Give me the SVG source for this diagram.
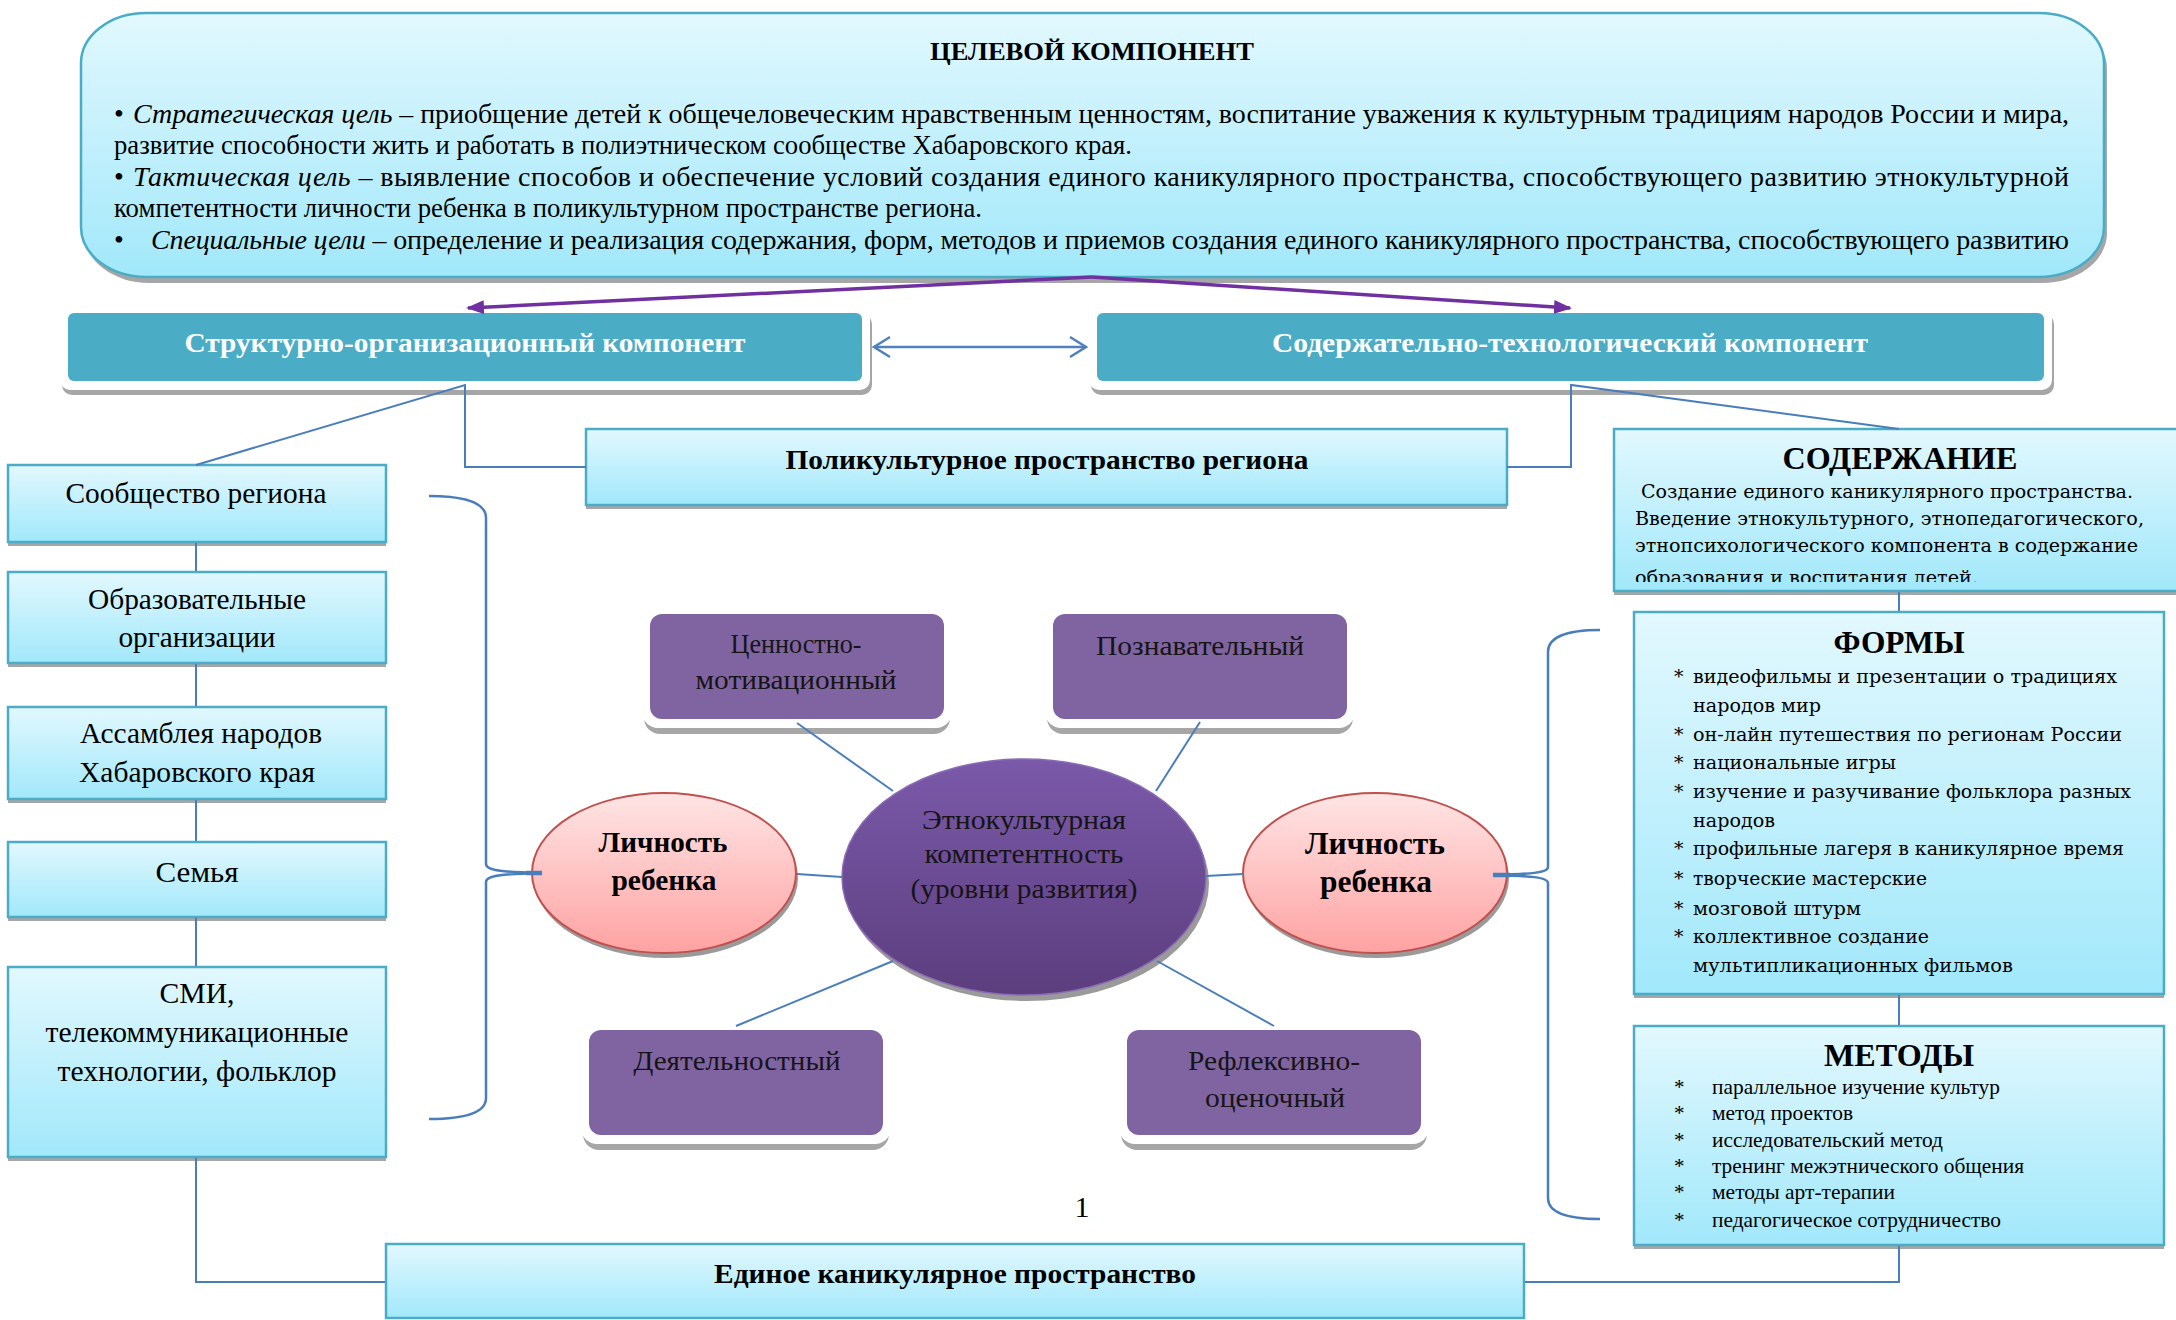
<svg xmlns="http://www.w3.org/2000/svg" width="2176" height="1320" viewBox="0 0 2176 1320">
<defs>
<linearGradient id="gBlue" x1="0" y1="0" x2="0" y2="1"><stop offset="0" stop-color="#e2f8fe"/><stop offset="1" stop-color="#a1e8fb"/></linearGradient>
<linearGradient id="gPink" x1="0" y1="0" x2="0" y2="1"><stop offset="0" stop-color="#fee5e5"/><stop offset="1" stop-color="#ffa2a2"/></linearGradient>
<linearGradient id="gPurple" x1="0" y1="0" x2="0" y2="1"><stop offset="0" stop-color="#7b59aa"/><stop offset="1" stop-color="#5c3e7e"/></linearGradient>
<marker id="mPurple" viewBox="0 0 18 14" refX="16" refY="7" markerWidth="18" markerHeight="14" markerUnits="userSpaceOnUse" orient="auto"><path d="M0,0 L18,7 L0,14 z" fill="#7030a0"/></marker>
<marker id="mOpen" viewBox="0 0 20 24" refX="18" refY="12" markerWidth="20" markerHeight="24" markerUnits="userSpaceOnUse" orient="auto-start-reverse"><path d="M2,2 L18,12 L2,22" fill="none" stroke="#4f81bd" stroke-width="2.5"/></marker>
<clipPath id="clipSod"><rect x="1614" y="429" width="562" height="153"/></clipPath>
</defs>
<style>
.conn{fill:none;stroke:#4a7ebb;stroke-width:2}
.brk{fill:none;stroke:#4a7ebb;stroke-width:2.5}
.stub{stroke:#4a7ebb;stroke-width:4.5}
.lb{fill:url(#gBlue);stroke:#4bacc6;stroke-width:2.5}
.sh{fill:#a6a6a6}
.frame{fill:#ffffff}
.teal{fill:#4bacc6}
.pbox{fill:#8064a2}
.t{font-family:"Liberation Serif","Times New Roman","DejaVu Serif Condensed","DejaVu Serif",serif;fill:#000}
.b{font-weight:bold}
.c{text-anchor:middle}
.w{fill:#ffffff}
.d{fill:#151515}
.cam{font-family:"DejaVu Serif","Liberation Serif",serif;fill:#000}
</style>

<g id="target">
<rect x="84" y="19" width="2023" height="264" rx="65" ry="50" class="sh"/>
<rect x="81" y="13" width="2023" height="264" rx="65" ry="50" class="lb"/>
<text class="t b c" x="1092" y="60" font-size="26" textLength="324" lengthAdjust="spacingAndGlyphs">ЦЕЛЕВОЙ КОМПОНЕНТ</text>
<text class="t" x="114" y="123" font-size="28">•</text>
<text class="t" x="133" y="123" font-size="28" textLength="1936" lengthAdjust="spacing"><tspan font-style="italic">Стратегическая цель</tspan> – приобщение детей к общечеловеческим нравственным ценностям, воспитание уважения к культурным традициям народов России и мира,</text>
<text class="t" x="114" y="154" font-size="28" textLength="1018" lengthAdjust="spacingAndGlyphs">развитие способности жить и работать в полиэтническом сообществе Хабаровского края.</text>
<text class="t" x="114" y="186" font-size="28">•</text>
<text class="t" x="133" y="186" font-size="28" textLength="1936" lengthAdjust="spacing"><tspan font-style="italic">Тактическая цель</tspan> – выявление способов и обеспечение условий создания единого каникулярного пространства, способствующего развитию этнокультурной</text>
<text class="t" x="114" y="217" font-size="28" textLength="868" lengthAdjust="spacingAndGlyphs">компетентности личности ребенка в поликультурном пространстве региона.</text>
<text class="t" x="114" y="249" font-size="28">•</text>
<text class="t" x="151" y="249" font-size="28" textLength="1918" lengthAdjust="spacing"><tspan font-style="italic">Специальные цели</tspan> – определение и реализация содержания, форм, методов и приемов создания единого каникулярного пространства, способствующего развитию</text>
</g>

<g id="struct">
<rect x="62" y="314" width="810" height="81" rx="10" class="sh"/>
<rect x="60" y="309" width="810" height="81" rx="10" class="frame"/>
<rect x="68" y="313" width="794" height="68" rx="6" class="teal"/>
<text class="t b c w" x="465" y="352" font-size="28" textLength="561" lengthAdjust="spacingAndGlyphs">Структурно-организационный компонент</text>
</g>

<g id="content-tech">
<rect x="1091" y="314" width="963" height="81" rx="10" class="sh"/>
<rect x="1089" y="309" width="963" height="81" rx="10" class="frame"/>
<rect x="1097" y="313" width="947" height="68" rx="6" class="teal"/>
<text class="t b c w" x="1570" y="352" font-size="28" textLength="596" lengthAdjust="spacingAndGlyphs">Содержательно-технологический компонент</text>
</g>

<g id="polycult">
<rect x="586" y="433" width="921" height="76" class="sh"/>
<rect x="586" y="429" width="921" height="76" class="lb"/>
<text class="t b c" x="1047" y="469" font-size="28" textLength="523" lengthAdjust="spacingAndGlyphs">Поликультурное пространство региона</text>
</g>

<g id="community">
<rect x="8" y="469" width="378" height="77" class="sh"/>
<rect x="8" y="465" width="378" height="77" class="lb"/>
<text class="t c" x="196" y="503" font-size="29.5" textLength="261" lengthAdjust="spacingAndGlyphs">Сообщество региона</text>
</g>
<g id="edu">
<rect x="8" y="576" width="378" height="91" class="sh"/>
<rect x="8" y="572" width="378" height="91" class="lb"/>
<text class="t c" x="197" y="609" font-size="29.5" textLength="218" lengthAdjust="spacingAndGlyphs">Образовательные</text>
<text class="t c" x="197" y="647" font-size="29.5" textLength="157" lengthAdjust="spacingAndGlyphs">организации</text>
</g>
<g id="assembly">
<rect x="8" y="711" width="378" height="92" class="sh"/>
<rect x="8" y="707" width="378" height="92" class="lb"/>
<text class="t c" x="201" y="743" font-size="29.5" textLength="242" lengthAdjust="spacingAndGlyphs">Ассамблея народов</text>
<text class="t c" x="197" y="782" font-size="29.5" textLength="236" lengthAdjust="spacingAndGlyphs">Хабаровского края</text>
</g>
<g id="family">
<rect x="8" y="846" width="378" height="75" class="sh"/>
<rect x="8" y="842" width="378" height="75" class="lb"/>
<text class="t c" x="197" y="882" font-size="29.5" textLength="83" lengthAdjust="spacingAndGlyphs">Семья</text>
</g>
<g id="media">
<rect x="8" y="971" width="378" height="190" class="sh"/>
<rect x="8" y="967" width="378" height="190" class="lb"/>
<text class="t c" x="197" y="1003" font-size="29.5" textLength="75" lengthAdjust="spacingAndGlyphs">СМИ,</text>
<text class="t c" x="197" y="1042" font-size="29.5" textLength="303" lengthAdjust="spacingAndGlyphs">телекоммуникационные</text>
<text class="t c" x="197" y="1081" font-size="29.5" textLength="279" lengthAdjust="spacingAndGlyphs">технологии, фольклор</text>
</g>

<g id="unified">
<rect x="386" y="1244" width="1138" height="74" class="lb"/>
<text class="t b c" x="955" y="1283" font-size="28" textLength="482" lengthAdjust="spacingAndGlyphs">Единое каникулярное пространство</text>
</g>

<g id="value">
<rect x="644" y="622" width="306" height="112" rx="16" class="sh"/>
<rect x="642" y="616" width="310" height="112" rx="16" class="frame"/>
<rect x="650" y="614" width="294" height="105" rx="12" class="pbox"/>
<text class="t c d" x="796" y="653" font-size="28" textLength="131" lengthAdjust="spacingAndGlyphs">Ценностно-</text>
<text class="t c d" x="796" y="689" font-size="28" textLength="201" lengthAdjust="spacingAndGlyphs">мотивационный</text>
</g>
<g id="cognitive">
<rect x="1047" y="622" width="306" height="112" rx="16" class="sh"/>
<rect x="1045" y="616" width="310" height="112" rx="16" class="frame"/>
<rect x="1053" y="614" width="294" height="105" rx="12" class="pbox"/>
<text class="t c d" x="1200" y="655" font-size="28" textLength="208" lengthAdjust="spacingAndGlyphs">Познавательный</text>
</g>
<g id="activity">
<rect x="583" y="1038" width="306" height="112" rx="16" class="sh"/>
<rect x="581" y="1032" width="310" height="112" rx="16" class="frame"/>
<rect x="589" y="1030" width="294" height="105" rx="12" class="pbox"/>
<text class="t c d" x="737" y="1070" font-size="28" textLength="207" lengthAdjust="spacingAndGlyphs">Деятельностный</text>
</g>
<g id="reflexive">
<rect x="1121" y="1038" width="306" height="112" rx="16" class="sh"/>
<rect x="1119" y="1032" width="310" height="112" rx="16" class="frame"/>
<rect x="1127" y="1030" width="294" height="105" rx="12" class="pbox"/>
<text class="t c d" x="1274" y="1070" font-size="28" textLength="172" lengthAdjust="spacingAndGlyphs">Рефлексивно-</text>
<text class="t c d" x="1275" y="1107" font-size="28" textLength="140" lengthAdjust="spacingAndGlyphs">оценочный</text>
</g>

<g id="core">
<ellipse cx="1027" cy="883" rx="182" ry="118" fill="#9a9a9a"/>
<ellipse cx="1024" cy="877" rx="182" ry="118" fill="url(#gPurple)" stroke="#8a6cb4" stroke-width="1.5"/>
<text class="t c d" x="1024" y="829" font-size="28" textLength="204" lengthAdjust="spacingAndGlyphs">Этнокультурная</text>
<text class="t c d" x="1024" y="863" font-size="28" textLength="199" lengthAdjust="spacingAndGlyphs">компетентность</text>
<text class="t c d" x="1024" y="898" font-size="28" textLength="227" lengthAdjust="spacingAndGlyphs">(уровни развития)</text>
</g>

<g id="child-left">
<ellipse cx="666" cy="878" rx="132" ry="80" fill="#9a9a9a"/>
<ellipse cx="664" cy="873" rx="132" ry="80" fill="url(#gPink)" stroke="#c0504d" stroke-width="2"/>
<text class="t b c" x="663" y="852" font-size="29" textLength="129" lengthAdjust="spacingAndGlyphs">Личность</text>
<text class="t b c" x="664" y="890" font-size="29" textLength="105" lengthAdjust="spacingAndGlyphs">ребенка</text>
</g>
<g id="child-right">
<ellipse cx="1377" cy="878" rx="132" ry="80" fill="#9a9a9a"/>
<ellipse cx="1375" cy="873" rx="132" ry="80" fill="url(#gPink)" stroke="#c0504d" stroke-width="2"/>
<text class="t b c" x="1375" y="854" font-size="31" textLength="140" lengthAdjust="spacingAndGlyphs">Личность</text>
<text class="t b c" x="1376" y="892" font-size="31" textLength="112" lengthAdjust="spacingAndGlyphs">ребенка</text>
</g>

<g id="number">
<text class="t c" x="1082" y="1217" font-size="30">1</text>
</g>

<g id="soderzhanie">
<rect x="1614" y="433" width="570" height="162" class="sh"/>
<rect x="1614" y="429" width="570" height="162" class="lb"/>
<text class="t b c" x="1900" y="469" font-size="32" textLength="235" lengthAdjust="spacingAndGlyphs">СОДЕРЖАНИЕ</text>
<g clip-path="url(#clipSod)">
<text class="cam" x="1641" y="498" font-size="19" textLength="492" lengthAdjust="spacingAndGlyphs">Создание единого каникулярного пространства.</text>
<text class="cam" x="1635" y="525" font-size="19" textLength="509" lengthAdjust="spacingAndGlyphs">Введение этнокультурного, этнопедагогического,</text>
<text class="cam" x="1635" y="552" font-size="19" textLength="503" lengthAdjust="spacingAndGlyphs">этнопсихологического компонента в содержание</text>
<text class="cam" x="1635" y="584" font-size="19" textLength="343" lengthAdjust="spacingAndGlyphs">образования  и воспитания детей.</text>
</g>
</g>

<g id="formy">
<rect x="1634" y="616" width="530" height="382" class="sh"/>
<rect x="1634" y="612" width="530" height="382" class="lb"/>
<text class="t b c" x="1899" y="653" font-size="32" textLength="131" lengthAdjust="spacingAndGlyphs">ФОРМЫ</text>
<g class="cam" font-size="19">
<text x="1674" y="683">*</text><text x="1693" y="683" textLength="424" lengthAdjust="spacingAndGlyphs">видеофильмы и презентации о традициях</text>
<text x="1693" y="712" textLength="128" lengthAdjust="spacingAndGlyphs">народов мир</text>
<text x="1674" y="741">*</text><text x="1693" y="741" textLength="429" lengthAdjust="spacingAndGlyphs">он-лайн путешествия по регионам России</text>
<text x="1674" y="769">*</text><text x="1693" y="769" textLength="203" lengthAdjust="spacingAndGlyphs">национальные игры</text>
<text x="1674" y="798">*</text><text x="1693" y="798" textLength="438" lengthAdjust="spacingAndGlyphs">изучение и разучивание фольклора разных</text>
<text x="1693" y="827" textLength="82" lengthAdjust="spacingAndGlyphs">народов</text>
<text x="1674" y="855">*</text><text x="1693" y="855" textLength="431" lengthAdjust="spacingAndGlyphs">профильные лагеря в каникулярное время</text>
<text x="1674" y="885">*</text><text x="1693" y="885" textLength="234" lengthAdjust="spacingAndGlyphs">творческие мастерские</text>
<text x="1674" y="915">*</text><text x="1693" y="915" textLength="168" lengthAdjust="spacingAndGlyphs">мозговой штурм</text>
<text x="1674" y="943">*</text><text x="1693" y="943" textLength="236" lengthAdjust="spacingAndGlyphs">коллективное создание</text>
<text x="1693" y="972" textLength="320" lengthAdjust="spacingAndGlyphs">мультипликационных фильмов</text>
</g>
</g>

<g id="metody">
<rect x="1634" y="1030" width="530" height="219" class="sh"/>
<rect x="1634" y="1026" width="530" height="219" class="lb"/>
<text class="t b c" x="1899" y="1066" font-size="32" textLength="150" lengthAdjust="spacingAndGlyphs">МЕТОДЫ</text>
<g class="t" font-size="21">
<text x="1674" y="1094">*</text><text x="1712" y="1094" textLength="288" lengthAdjust="spacingAndGlyphs">параллельное изучение культур</text>
<text x="1674" y="1120">*</text><text x="1712" y="1120" textLength="141" lengthAdjust="spacingAndGlyphs">метод проектов</text>
<text x="1674" y="1147">*</text><text x="1712" y="1147" textLength="231" lengthAdjust="spacingAndGlyphs">исследовательский метод</text>
<text x="1674" y="1173">*</text><text x="1712" y="1173" textLength="312" lengthAdjust="spacingAndGlyphs">тренинг межэтнического общения</text>
<text x="1674" y="1199">*</text><text x="1712" y="1199" textLength="183" lengthAdjust="spacingAndGlyphs">методы арт-терапии</text>
<text x="1674" y="1227">*</text><text x="1712" y="1227" textLength="289" lengthAdjust="spacingAndGlyphs">педагогическое сотрудничество</text>
</g>
</g>

<g id="connectors">
<polyline points="1092,277 468,308" fill="none" stroke="#7030a0" stroke-width="3.5" marker-end="url(#mPurple)"/>
<polyline points="1092,277 1570,308" fill="none" stroke="#7030a0" stroke-width="3.5" marker-end="url(#mPurple)"/>
<line x1="874" y1="347" x2="1086" y2="347" stroke="#4f81bd" stroke-width="2.5" marker-start="url(#mOpen)" marker-end="url(#mOpen)"/>
<polyline class="conn" points="196,465 465,385 465,467 586,467"/>
<polyline class="conn" points="1899,429 1571,385 1571,467 1507,467"/>
<line class="conn" x1="196" y1="543" x2="196" y2="571"/>
<line class="conn" x1="196" y1="664" x2="196" y2="706"/>
<line class="conn" x1="196" y1="800" x2="196" y2="841"/>
<line class="conn" x1="196" y1="918" x2="196" y2="966"/>
<polyline class="conn" points="196,1158 196,1282 385,1282"/>
<polyline class="conn" points="1525,1282 1899,1282 1899,1246"/>
<line class="conn" x1="1899" y1="592" x2="1899" y2="611"/>
<line class="conn" x1="1899" y1="995" x2="1899" y2="1025"/>
<path class="brk" d="M429,496 Q486,496 486,518 L486,864 C486,871 505,872 542,873 C505,874 486,875 486,882 L486,1098 Q486,1119 429,1119"/>
<line class="stub" x1="526" y1="873" x2="542" y2="873"/>
<path class="brk" d="M1600,630 Q1548,630 1548,652 L1548,867 C1548,873 1530,874 1493,875 C1530,876 1548,877 1548,883 L1548,1198 Q1548,1219 1600,1219"/>
<line class="stub" x1="1493" y1="875" x2="1510" y2="875"/>
<line class="conn" x1="797" y1="874" x2="842" y2="877"/>
<line class="conn" x1="1206" y1="876" x2="1243" y2="874"/>
<line class="conn" x1="797" y1="723" x2="893" y2="791"/>
<line class="conn" x1="1200" y1="722" x2="1156" y2="791"/>
<line class="conn" x1="736" y1="1026" x2="893" y2="961"/>
<line class="conn" x1="1274" y1="1026" x2="1157" y2="961"/>
</g>
</svg>
